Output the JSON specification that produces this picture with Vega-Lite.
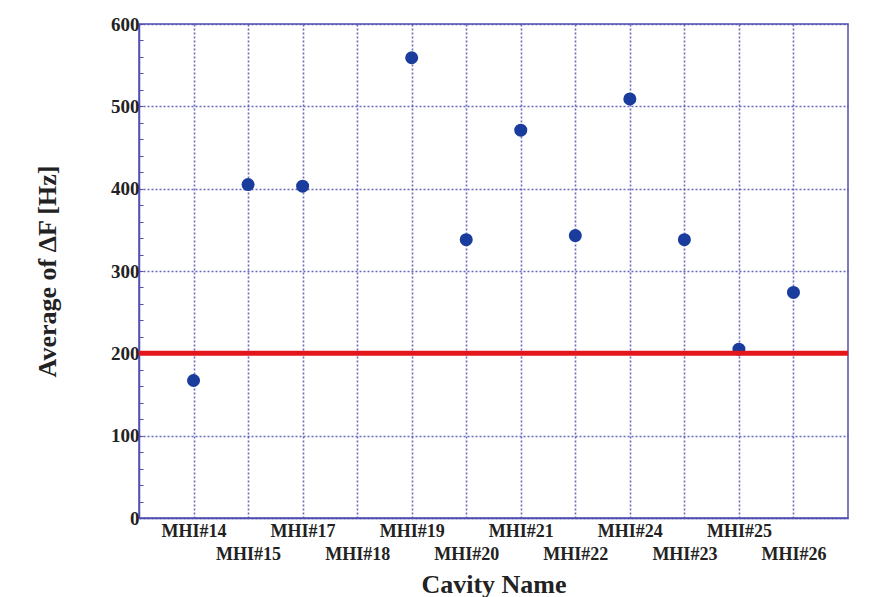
{
  "$schema": "https://vega.github.io/schema/vega-lite/v6.json",
  "width": 709,
  "height": 494,
  "autosize": {"type": "none"},
  "padding": {"left": 139, "top": 24, "right": 24, "bottom": 79},
  "background": "white",
  "config": {
    "view": {"stroke": "#5050b0", "strokeWidth": 1.5},
    "font": "Liberation Serif"
  },
  "layer": [
    {
      "data": {
        "values": [
          {"cavity": "MHI#14", "avg_dF": 167},
          {"cavity": "MHI#15", "avg_dF": 405},
          {"cavity": "MHI#17", "avg_dF": 403},
          {"cavity": "MHI#19", "avg_dF": 559},
          {"cavity": "MHI#20", "avg_dF": 338},
          {"cavity": "MHI#21", "avg_dF": 471},
          {"cavity": "MHI#22", "avg_dF": 343},
          {"cavity": "MHI#24", "avg_dF": 509},
          {"cavity": "MHI#23", "avg_dF": 338},
          {"cavity": "MHI#25", "avg_dF": 205},
          {"cavity": "MHI#26", "avg_dF": 274}
        ]
      },
      "mark": {"type": "point", "filled": true, "size": 170, "opacity": 1, "color": "#1a3c9c"},
      "encoding": {
        "x": {
          "field": "cavity",
          "type": "nominal",
          "scale": {
            "type": "point",
            "padding": 1,
            "domain": ["MHI#14", "MHI#15", "MHI#17", "MHI#18", "MHI#19", "MHI#20", "MHI#21", "MHI#22", "MHI#24", "MHI#23", "MHI#25", "MHI#26"]
          },
          "axis": {
            "title": "Cavity Name",
            "titleFont": "Liberation Serif",
            "titleFontSize": 26,
            "titleFontWeight": "bold",
            "titleColor": "#222222",
            "titlePadding": 8,
            "labelAngle": 0,
            "labelFont": "Liberation Serif",
            "labelFontSize": 18,
            "labelFontWeight": "bold",
            "labelColor": "#222222",
            "labelBaseline": "top",
            "labelLineHeight": 23,
            "labelPadding": 4,
            "labelOverlap": false,
            "labelBound": false,
            "labelExpr": "indexof(['MHI#15','MHI#18','MHI#20','MHI#22','MHI#23','MHI#26'], datum.value) >= 0 ? ['', datum.value] : datum.value",
            "ticks": false,
            "domainColor": "#5050b0",
            "domainWidth": 1.5,
            "grid": true,
            "gridColor": "#5050b0",
            "gridWidth": 1.6,
            "gridDash": [2, 2],
            "gridOpacity": 0.85
          }
        },
        "y": {
          "field": "avg_dF",
          "type": "quantitative",
          "scale": {"domain": [0, 600], "nice": false},
          "axis": {
            "title": "Average of ΔF [Hz]",
            "titleFont": "Liberation Serif",
            "titleFontSize": 26,
            "titleFontWeight": "bold",
            "titleColor": "#222222",
            "titlePadding": 50,
            "tickCount": 100,
            "values": [0, 20, 40, 60, 80, 100, 120, 140, 160, 180, 200, 220, 240, 260, 280, 300, 320, 340, 360, 380, 400, 420, 440, 460, 480, 500, 520, 540, 560, 580, 600],
            "labelExpr": "datum.value % 100 == 0 ? datum.value : ''",
            "labelFont": "Liberation Serif",
            "labelFontSize": 19,
            "labelFontWeight": "bold",
            "labelColor": "#222222",
            "labelPadding": 4,
            "labelOverlap": false,
            "labelBound": false,
            "tickColor": "#5050b0",
            "tickWidth": 1,
            "tickSize": -4,
            "domainColor": "#5050b0",
            "domainWidth": 1.5,
            "grid": true,
            "gridColor": "#5050b0",
            "gridWidth": 1.6,
            "gridDash": [2, 2],
            "gridOpacity": {"condition": {"test": "datum.value % 100 == 0", "value": 0.85}, "value": 0}
          }
        }
      }
    },
    {
      "data": {"values": [{"threshold": 200}]},
      "mark": {"type": "rule", "color": "#e3161b", "strokeWidth": 5},
      "encoding": {
        "y": {"field": "threshold", "type": "quantitative"}
      }
    }
  ]
}
